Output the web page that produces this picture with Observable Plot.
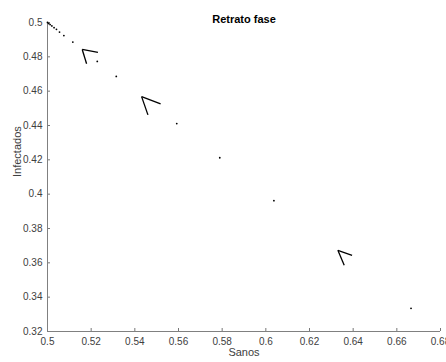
<!DOCTYPE html>
<html><head><meta charset="utf-8">
<script src="https://cdn.jsdelivr.net/npm/d3@7"></script>
<script src="https://cdn.jsdelivr.net/npm/@observablehq/plot@0.6"></script>
<style>body{margin:0;background:#fff}</style>
</head><body><div id="chart"></div>
<script>
const title = "Retrato fase";
const xLabel = "Sanos";
const yLabel = "Infectados";
const xTicks = [0.5,0.52,0.54,0.56,0.58,0.6,0.62,0.64,0.66,0.68];
const yTicks = [0.32,0.34,0.36,0.38,0.4,0.42,0.44,0.46,0.48,0.5];
// trajectory points
const sanos      = [0.5, 0.5006, 0.5012, 0.5020, 0.5030, 0.5041, 0.5055, 0.5075, 0.5116, 0.5228, 0.5315, 0.5592, 0.5789, 0.6037, 0.6665];
const infectados = [0.5, 0.4994, 0.4988, 0.4980, 0.4970, 0.4960, 0.4944, 0.4924, 0.4886, 0.4773, 0.4686, 0.4411, 0.4212, 0.3962, 0.3335];
// arrowheads: tip and the ends of its two barbs
const tipX = [0.5159, 0.5431, 0.6330];
const tipY = [0.4843, 0.4568, 0.3673];
const barbAX = [0.5231, 0.5518, 0.6395];
const barbAY = [0.4826, 0.4526, 0.3644];
const barbBX = [0.5179, 0.5460, 0.6359];
const barbBY = [0.4760, 0.4462, 0.3586];

const pts = sanos.map((x,i)=>({x, y: infectados[i]}));
const barbs = [];
tipX.forEach((tx,i)=>{
  barbs.push({x1:tx, y1:tipY[i], x2:barbAX[i], y2:barbAY[i]});
  barbs.push({x1:tx, y1:tipY[i], x2:barbBX[i], y2:barbBY[i]});
});

const chart = Plot.plot({
  width: 446, height: 362,
  marginLeft: 47, marginRight: 6, marginTop: 22, marginBottom: 31,
  style: {fontFamily: "'Liberation Sans', Arial, sans-serif", fontSize: "10px", background: "#fff"},
  x: {domain: [0.5, 0.68], label: null},
  y: {domain: [0.32, 0.5], label: null},
  marks: [
    Plot.axisX({ticks: xTicks, tickFormat: d => String(+d.toFixed(2)), tickSize: -3, tickPadding: 9, stroke: "#777", color: "#404040", fontSize: 10}),
    Plot.axisY({ticks: yTicks, tickFormat: d => String(+d.toFixed(2)), tickSize: -3, tickPadding: 8, stroke: "#777", color: "#404040", fontSize: 10}),
    Plot.ruleY([0.32], {stroke: "#808080"}),
    Plot.ruleX([0.5], {stroke: "#808080"}),
    Plot.dot(pts, {x: "x", y: "y", r: 0.9, fill: "#000", stroke: null}),
    Plot.link(barbs, {x1: "x1", y1: "y1", x2: "x2", y2: "y2", stroke: "#000", strokeWidth: 1.3}),
    Plot.text([title], {frameAnchor: "top", dy: -7, fontWeight: "bold", fontSize: 11, fill: "#000"}),
    Plot.text([xLabel], {frameAnchor: "bottom", dy: 24, fontSize: 11, fill: "#404040"}),
    Plot.text([yLabel], {frameAnchor: "left", dx: -30, rotate: -90, fontSize: 11, fill: "#404040"})
  ]
});
document.getElementById("chart").appendChild(chart);
</script>
</body></html>
